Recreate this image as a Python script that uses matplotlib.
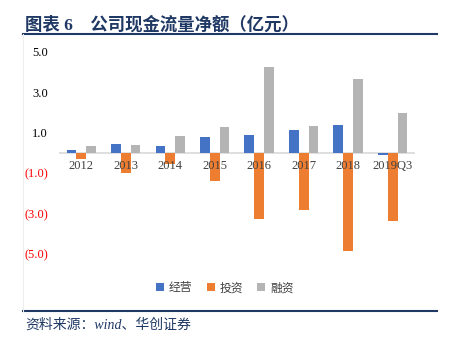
import matplotlib
matplotlib.use("Agg")
import matplotlib.pyplot as plt
import numpy as np

# 数据（亿元）
categories = ["2012", "2013", "2014", "2015", "2016", "2017", "2018", "2019Q3"]
jingying = [0.13, 0.43, 0.35, 0.76, 0.88, 1.12, 1.37, -0.10]
touzi = [-0.30, -1.02, -0.53, -1.39, -3.27, -2.84, -4.85, -3.37]
rongzi = [0.35, 0.38, 0.84, 1.26, 4.23, 1.32, 3.65, 1.95]
series_names = ["经营", "投资", "融资"]
yticks = [5, 3, 1, -1, -3, -5]

colors = ["#4472C4", "#ED7D31", "#B4B4B4"]
navy = "#1F3864"
serif_cjk = ["Liberation Serif", "Noto Sans CJK SC"]

fig = plt.figure(figsize=(4.5, 3.43), dpi=100)
ax = fig.add_axes([0.131, 0.224, 0.791, 0.649])

x = np.arange(len(categories))
w = 0.22
for i, vals in enumerate([jingying, touzi, rongzi]):
    ax.bar(x + (i - 1) * w, vals, w, color=colors[i], label=series_names[i], zorder=2)

ax.axhline(0, color="#D9D9D9", lw=1.2, zorder=1)
ax.set_xlim(-0.5, len(categories) - 0.5)
ax.set_ylim(-5.6, 5.4)

ax.set_yticks(yticks)
ylabels = [f"{v:.1f}" if v > 0 else f"({abs(v):.1f})" for v in yticks]
ax.set_yticklabels(ylabels, family="Liberation Serif", fontsize=9)
for lab, v in zip(ax.get_yticklabels(), yticks):
    lab.set_color("black" if v > 0 else "#FF0000")
ax.tick_params(axis="y", length=0, pad=8)
ax.set_xticks([])
for xi, c in zip(x, categories):
    ax.text(xi, -0.35, c, ha="center", va="top", fontsize=9,
            family="Liberation Serif", color="#404040", zorder=3)

for s in ax.spines.values():
    s.set_visible(False)

leg = ax.legend(loc="upper center", bbox_to_anchor=(0.466, -0.02), ncol=3,
                frameon=False, handlelength=0.7, handleheight=0.7,
                handletextpad=0.4, columnspacing=1.2,
                prop={"family": "Noto Sans CJK SC", "size": 8.5})
for t in leg.get_texts():
    t.set_color("#404040")

# 标题与来源
fig.text(0.056, 0.928, "图表 6    公司现金流量净额（亿元）", fontsize=12.5,
         fontweight="bold", color=navy, family=serif_cjk, va="center")
fig.add_artist(plt.Line2D([0.051, 0.971], [0.902, 0.902], color=navy, lw=1.5))
fig.add_artist(plt.Line2D([0.051, 0.971], [0.094, 0.094], color=navy, lw=1.5))
fig.add_artist(plt.Line2D([0.051, 0.051], [0.094, 0.902], color="#EEEEEE", lw=0.8))
fig.text(0.056, 0.052, "资料来源：wind、华创证券", fontsize=10, style="italic",
         color=navy, family=serif_cjk, va="center")

fig.savefig("out.png", dpi=100)
